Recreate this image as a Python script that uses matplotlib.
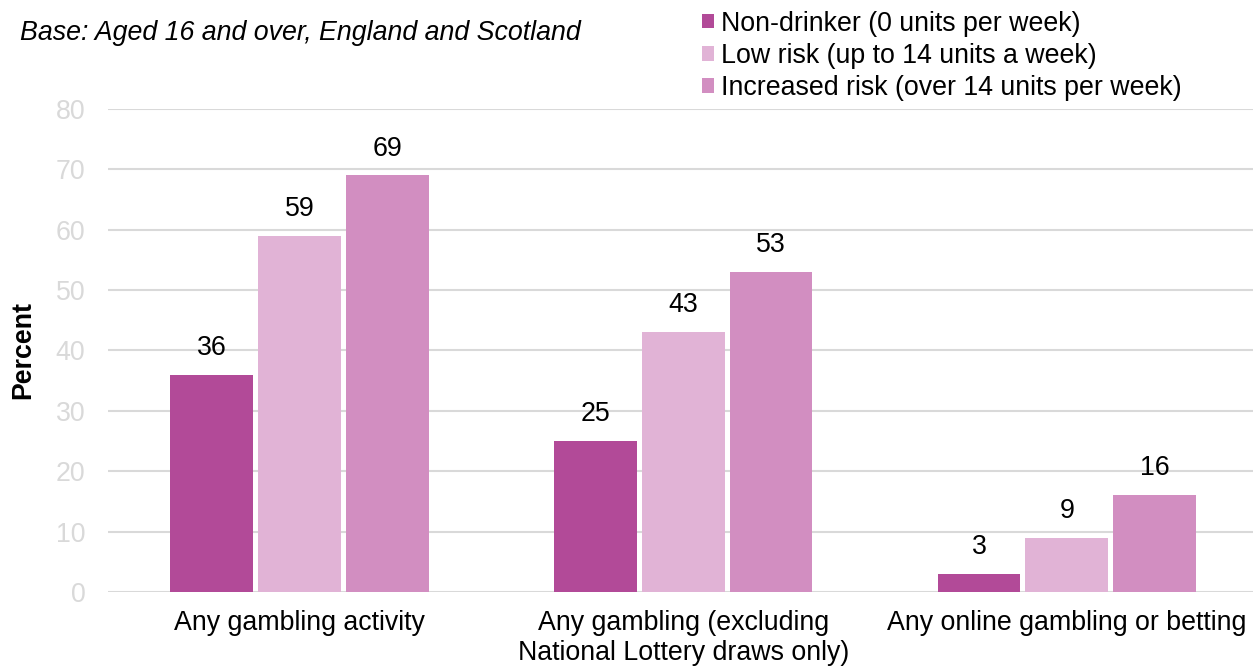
import matplotlib
matplotlib.use("Agg")
import matplotlib.pyplot as plt
from matplotlib.patches import Patch
import numpy as np

plt.rcParams['font.family'] = ['Liberation Sans', 'DejaVu Sans']

categories = ["Any gambling activity",
              "Any gambling (excluding\nNational Lottery draws only)",
              "Any online gambling or betting"]
series_names = ["Non-drinker (0 units per week)",
                "Low risk (up to 14 units a week)",
                "Increased risk (over 14 units per week)"]
non_drinker = [36, 25, 3]
low_risk = [59, 43, 9]
increased_risk = [69, 53, 16]
colors = ["#B24A98", "#E1B3D6", "#D28EC1"]
y_ticks = [0, 10, 20, 30, 40, 50, 60, 70, 80]

fig = plt.figure(figsize=(12.53, 6.68), dpi=100)
ax = fig.add_axes([0.0859, 0.1138, 0.9186, 0.723])

x = np.arange(len(categories))
width = 0.216
step = 0.229
fs = 19.3
for i, (vals, col) in enumerate(zip([non_drinker, low_risk, increased_risk], colors)):
    bars = ax.bar(x + (i - 1) * step, vals, width=width, color=col, zorder=3)
    for b, v in zip(bars, vals):
        ax.annotate(f"{v}", (b.get_x() + b.get_width() / 2, v),
                    xytext=(0, 10), textcoords="offset points",
                    ha="center", va="bottom", fontsize=fs, color="#000000")

ax.set_xlim(-0.5, 2.5)
ax.set_ylim(0, 80)
ax.set_yticks(y_ticks)
ax.set_xticks(x)
ax.set_xticklabels(categories, fontsize=fs, linespacing=1.22)
ax.tick_params(axis='y', labelsize=fs, labelcolor="#D9D9D9", length=0, pad=16)
ax.tick_params(axis='x', length=0, pad=13)
ax.grid(axis='y', color="#D9D9D9", linewidth=1.5, zorder=0)
for s in ax.spines.values():
    s.set_visible(False)
ax.set_ylabel("Percent", fontsize=fs, fontweight="bold", labelpad=14)

fig.text(0.016, 0.950, "Base: Aged 16 and over, England and Scotland",
         fontsize=fs, style="italic", ha="left", va="center")

handles = [Patch(facecolor=c, edgecolor="none") for c in colors]
fig.legend(handles, series_names, loc="upper left", bbox_to_anchor=(0.552, 1.0),
           frameon=False, fontsize=fs, handlelength=0.45, handleheight=0.45,
           handletextpad=0.25, labelspacing=0.23, borderaxespad=0)

fig.savefig("out.png", dpi=100, facecolor="white")
